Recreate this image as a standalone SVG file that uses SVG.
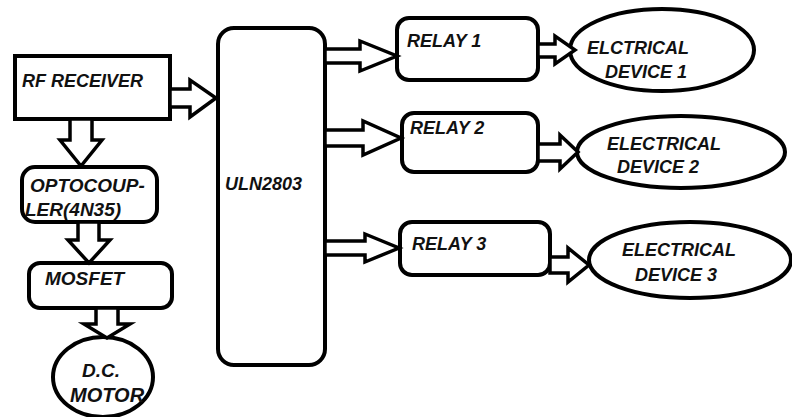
<svg xmlns="http://www.w3.org/2000/svg" width="792" height="417" viewBox="0 0 792 417">
<style>
.box{fill:#fff;stroke:#000;stroke-width:4}
.arr{fill:#fff;stroke:#000;stroke-width:3.5;stroke-linejoin:miter}
.t{font-family:"Liberation Sans",Arial,sans-serif;font-weight:bold;font-style:italic;font-size:18px;fill:#111}
</style>
<rect width="792" height="417" fill="#fff"/>
<g id="rf"><rect class="box" x="15" y="56" width="155" height="63"/><text class="t" x="22" y="87">RF RECEIVER</text></g>
<g id="opto"><rect class="box" x="22" y="167" width="135" height="55" rx="13"/><text class="t" x="30" y="192" style="font-size:19px">OPTOCOUP-</text><text class="t" x="25" y="216" style="font-size:19px">LER(4N35)</text></g>
<g id="mosfet"><rect class="box" x="29" y="263" width="143" height="45" rx="11"/><text class="t" x="45" y="285" style="font-size:19px">MOSFET</text></g>
<g id="motor"><ellipse class="box" cx="103" cy="377" rx="50" ry="40"/><text class="t" x="82" y="377" style="font-size:19px">D.C.</text><text class="t" x="70" y="402" style="font-size:20px">MOTOR</text></g>
<g id="uln"><rect class="box" x="218" y="28" width="107" height="337" rx="16"/><text class="t" x="225" y="190">ULN2803</text></g>
<g id="relay1"><rect class="box" x="397" y="18" width="141" height="62" rx="12"/><text class="t" x="407" y="47">RELAY 1</text></g>
<g id="relay2"><rect class="box" x="402" y="113" width="136" height="59" rx="12"/><text class="t" x="410" y="134">RELAY 2</text></g>
<g id="relay3"><rect class="box" x="400" y="222" width="150" height="53" rx="12"/><text class="t" x="412" y="250">RELAY 3</text></g>
<g id="dev1"><ellipse class="box" cx="662" cy="50" rx="92" ry="41"/><text class="t" x="587" y="54">ELCTRICAL</text><text class="t" x="605" y="78">DEVICE 1</text></g>
<g id="dev2"><ellipse class="box" cx="681" cy="152" rx="104" ry="36"/><text class="t" x="607" y="150">ELECTRICAL</text><text class="t" x="617" y="173">DEVICE 2</text></g>
<g id="dev3"><ellipse class="box" cx="690" cy="260" rx="101" ry="38"/><text class="t" x="622" y="256">ELECTRICAL</text><text class="t" x="635" y="281">DEVICE 3</text></g>
<g id="connectors">
<polygon class="arr" points="170,89 190,89 190,80 216,98 190,117 190,107 170,107"/>
<polygon class="arr" points="325,49 360,49 360,41 397,56 360,71 360,63 325,63"/>
<polygon class="arr" points="325,130 363,130 363,121 401,138 363,155 363,146 325,146"/>
<polygon class="arr" points="325,241 365,241 365,234 399,248 365,262 365,255 325,255"/>
<polygon class="arr" points="538,44 555,44 555,36 575,50 555,64 555,57 538,57"/>
<polygon class="arr" points="538,144 560,144 560,135 578,152 560,169 560,161 538,161"/>
<polygon class="arr" points="550,257 568,257 568,248 589,265 568,282 568,273 550,273"/>
<polygon class="arr" points="70,119 70,140 60,140 81,166 102,140 92,140 92,119"/>
<polygon class="arr" points="78,222 78,240 68,240 89,263 110,240 99,240 99,222"/>
<polygon class="arr" points="96,308 96,324 84,324 107,338 130,324 118,324 118,308"/>
</g>
</svg>
